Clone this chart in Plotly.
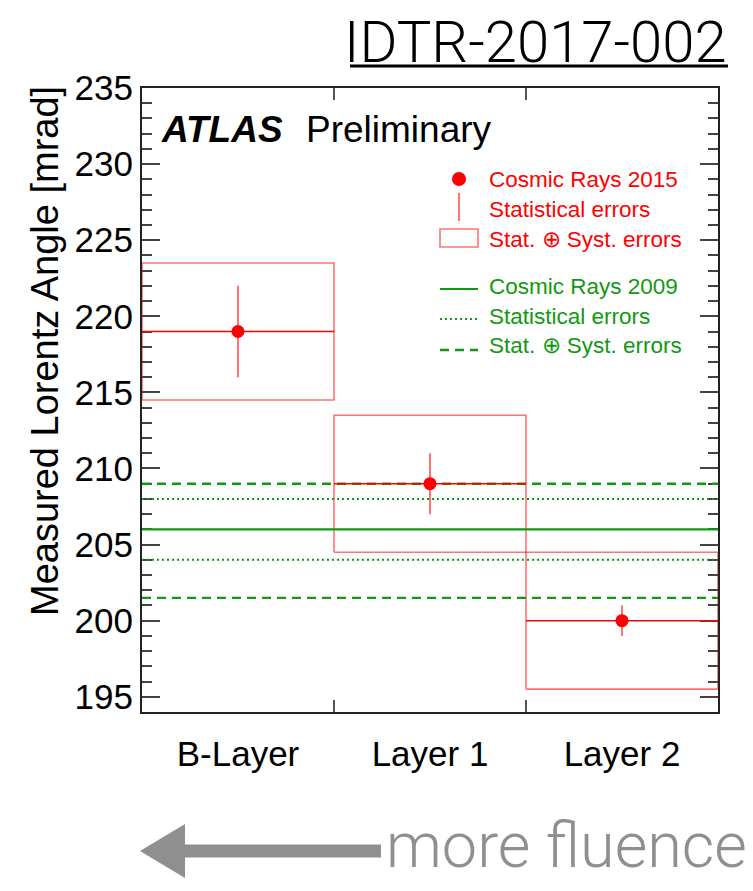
import plotly.graph_objects as go

# ---------------- data ----------------
categories = ["B-Layer", "Layer 1", "Layer 2"]
angle_2015 = [219.0, 209.0, 200.0]          # mrad
stat_2015 = [3.0, 2.0, 1.0]                 # statistical error
total_2015 = [4.5, 4.5, 4.5]                # stat (+) syst half-height

angle_2009 = 206.0
stat_2009 = [208.0, 204.0]                  # upper / lower stat band
total_2009 = [209.0, 201.5]                 # upper / lower stat(+)syst band

y_range = [194, 235]
y_major = 5
y_minor = 1
y_title = "Measured Lorentz Angle [mrad]"

legend_red = ["Cosmic Rays 2015", "Statistical errors", "Stat. \u2295 Syst. errors"]
legend_green = ["Cosmic Rays 2009", "Statistical errors", "Stat. \u2295 Syst. errors"]

# ---------------- styling ----------------
RED = "#ff0000"
RED_LIGHT = "rgba(255,0,0,0.55)"
GREEN = "#119911"
FONT = "Liberation Sans, Arial, Helvetica, sans-serif"
W, H = 753, 891
OFF = 8                       # default page body margin
L, R, T, B = 142, 35, 88, 179
PW, PH = W - L - R, H - T - B

def px(x):
    return (x - L) / PW

def py(y):
    return (H - B - y) / PH

n = len(categories)
fig = go.Figure()

# stat (+) syst boxes
for i, (v, t) in enumerate(zip(angle_2015, total_2015)):
    fig.add_trace(go.Scatter(
        x=[i, i + 1, i + 1, i, i], y=[v - t, v - t, v + t, v + t, v - t],
        mode="lines", line=dict(color=RED_LIGHT, width=1.6),
        hoverinfo="skip", showlegend=False))

# 2009 bands
full_x = [0, n]
for yv in stat_2009:
    fig.add_trace(go.Scatter(x=full_x, y=[yv, yv], mode="lines",
                             line=dict(color=GREEN, width=2, dash="2px,3px"),
                             hoverinfo="skip", showlegend=False))
for yv in total_2009:
    fig.add_trace(go.Scatter(x=full_x, y=[yv, yv], mode="lines",
                             line=dict(color=GREEN, width=2.4, dash="9px,6px"),
                             hoverinfo="skip", showlegend=False))
fig.add_trace(go.Scatter(x=full_x, y=[angle_2009, angle_2009], mode="lines",
                         line=dict(color=GREEN, width=2.2),
                         hoverinfo="skip", showlegend=False))

# central value lines across bins
for i, v in enumerate(angle_2015):
    fig.add_trace(go.Scatter(x=[i, i + 1], y=[v, v], mode="lines",
                             line=dict(color=RED, width=1.4),
                             hoverinfo="skip", showlegend=False))

# points with stat errors
fig.add_trace(go.Scatter(
    x=[i + 0.5 for i in range(n)], y=angle_2015, mode="markers",
    marker=dict(color=RED, size=13),
    error_y=dict(type="data", array=stat_2015, color=RED_LIGHT,
                 thickness=2, width=0),
    showlegend=False))

# ---------------- manual legend ----------------
shapes = []
lx0, lx1, lxc = 440, 478, 459
shapes.append(dict(type="circle", xref="paper", yref="paper",
                   x0=px(lxc - 7), x1=px(lxc + 7), y0=py(179 + 7), y1=py(179 - 7),
                   fillcolor=RED, line=dict(width=0)))
shapes.append(dict(type="line", xref="paper", yref="paper",
                   x0=px(lxc), x1=px(lxc), y0=py(193), y1=py(221),
                   line=dict(color=RED_LIGHT, width=2)))
shapes.append(dict(type="rect", xref="paper", yref="paper",
                   x0=px(lx0), x1=px(lx1), y0=py(229), y1=py(247),
                   line=dict(color=RED_LIGHT, width=1.6)))
shapes.append(dict(type="line", xref="paper", yref="paper",
                   x0=px(lx0), x1=px(lx1), y0=py(289), y1=py(289),
                   line=dict(color=GREEN, width=2.2)))
shapes.append(dict(type="line", xref="paper", yref="paper",
                   x0=px(lx0), x1=px(lx1), y0=py(319), y1=py(319),
                   line=dict(color=GREEN, width=2, dash="2px,3px")))
shapes.append(dict(type="line", xref="paper", yref="paper",
                   x0=px(lx0), x1=px(lx1), y0=py(350), y1=py(350),
                   line=dict(color=GREEN, width=2.4, dash="9px,6px")))

annotations = []
for txt, yc in zip(legend_red, [179, 209, 239]):
    annotations.append(dict(text=txt, xref="paper", yref="paper", x=px(487), y=py(yc),
                            xanchor="left", yanchor="middle", showarrow=False,
                            font=dict(family=FONT, size=22.5, color=RED)))
for txt, yc in zip(legend_green, [286, 316, 345]):
    annotations.append(dict(text=txt, xref="paper", yref="paper", x=px(487), y=py(yc),
                            xanchor="left", yanchor="middle", showarrow=False,
                            font=dict(family=FONT, size=22.5, color=GREEN)))

# ATLAS label
annotations.append(dict(text="<b><i>ATLAS</i></b>", xref="paper", yref="paper",
                        x=px(159), y=py(130), xanchor="left", yanchor="middle",
                        showarrow=False, font=dict(family=FONT, size=37, color="black")))
annotations.append(dict(text="Preliminary", xref="paper", yref="paper",
                        x=px(304), y=py(130), xanchor="left", yanchor="middle",
                        showarrow=False, font=dict(family=FONT, size=37, color="black")))

# y-axis title, aligned to top of the frame (ROOT style)
annotations.append(dict(text=y_title, xref="paper", yref="paper",
                        x=px(45), y=py(84), xanchor="center", yanchor="top",
                        textangle=-90, showarrow=False,
                        font=dict(family=FONT, size=38, color="black")))

# Title with underline
annotations.append(dict(text="IDTR-2017-002", xref="paper", yref="paper",
                        x=px(729), y=py(42), xanchor="right", yanchor="middle",
                        showarrow=False,
                        font=dict(family="Roboto, Liberation Sans, sans-serif", size=58,
                                  color="black", weight=300)))
shapes.append(dict(type="line", xref="paper", yref="paper",
                   x0=px(350), x1=px(728), y0=py(66), y1=py(66),
                   line=dict(color="black", width=3)))

# "more fluence" arrow
GRAY = "#8f8f8f"
shapes.append(dict(type="rect", xref="paper", yref="paper",
                   x0=px(183), x1=px(381), y0=py(857.5), y1=py(844.5),
                   fillcolor=GRAY, line=dict(width=0)))
shapes.append(dict(type="path", xref="paper", yref="paper",
                   path=f"M {px(140)} {py(851)} L {px(185)} {py(824)} L {px(185)} {py(878)} Z",
                   fillcolor=GRAY, line=dict(width=0)))
annotations.append(dict(text="more fluence", xref="paper", yref="paper",
                        x=px(384), y=py(846), xanchor="left", yanchor="middle",
                        showarrow=False,
                        font=dict(family="Roboto, Liberation Sans, sans-serif", size=63,
                                  color=GRAY, weight=300)))

fig.update_layout(
    width=W - OFF, height=H - OFF,
    margin=dict(l=L - OFF, r=R, t=T - OFF, b=B, pad=0),
    paper_bgcolor="white", plot_bgcolor="white",
    showlegend=False,
    shapes=shapes, annotations=annotations,
    xaxis=dict(range=[0, n], tickmode="array",
               tickvals=[i + 0.5 for i in range(n)], ticktext=categories,
               ticks="", showgrid=False, zeroline=False, layer="below traces",
               showline=True, linecolor="#222", linewidth=2, mirror="ticks",
               tickfont=dict(family=FONT, size=35, color="black"),
               ticklabelstandoff=10,
               minor=dict(tickmode="array", tickvals=list(range(1, n)),
                          ticks="inside", ticklen=12, tickwidth=1.5, tickcolor="#555")),
    yaxis=dict(range=y_range, tick0=0, dtick=y_major,
               ticks="inside", ticklen=18, tickwidth=1.5, tickcolor="#444",
               showgrid=False, zeroline=False, layer="below traces",
               showline=True, linecolor="#222", linewidth=2, mirror="ticks",
               tickfont=dict(family=FONT, size=35, color="black"),
               minor=dict(dtick=y_minor, ticks="inside", ticklen=10,
                          tickwidth=1.5, tickcolor="#444")),
)

fig.write_html("out.html")
